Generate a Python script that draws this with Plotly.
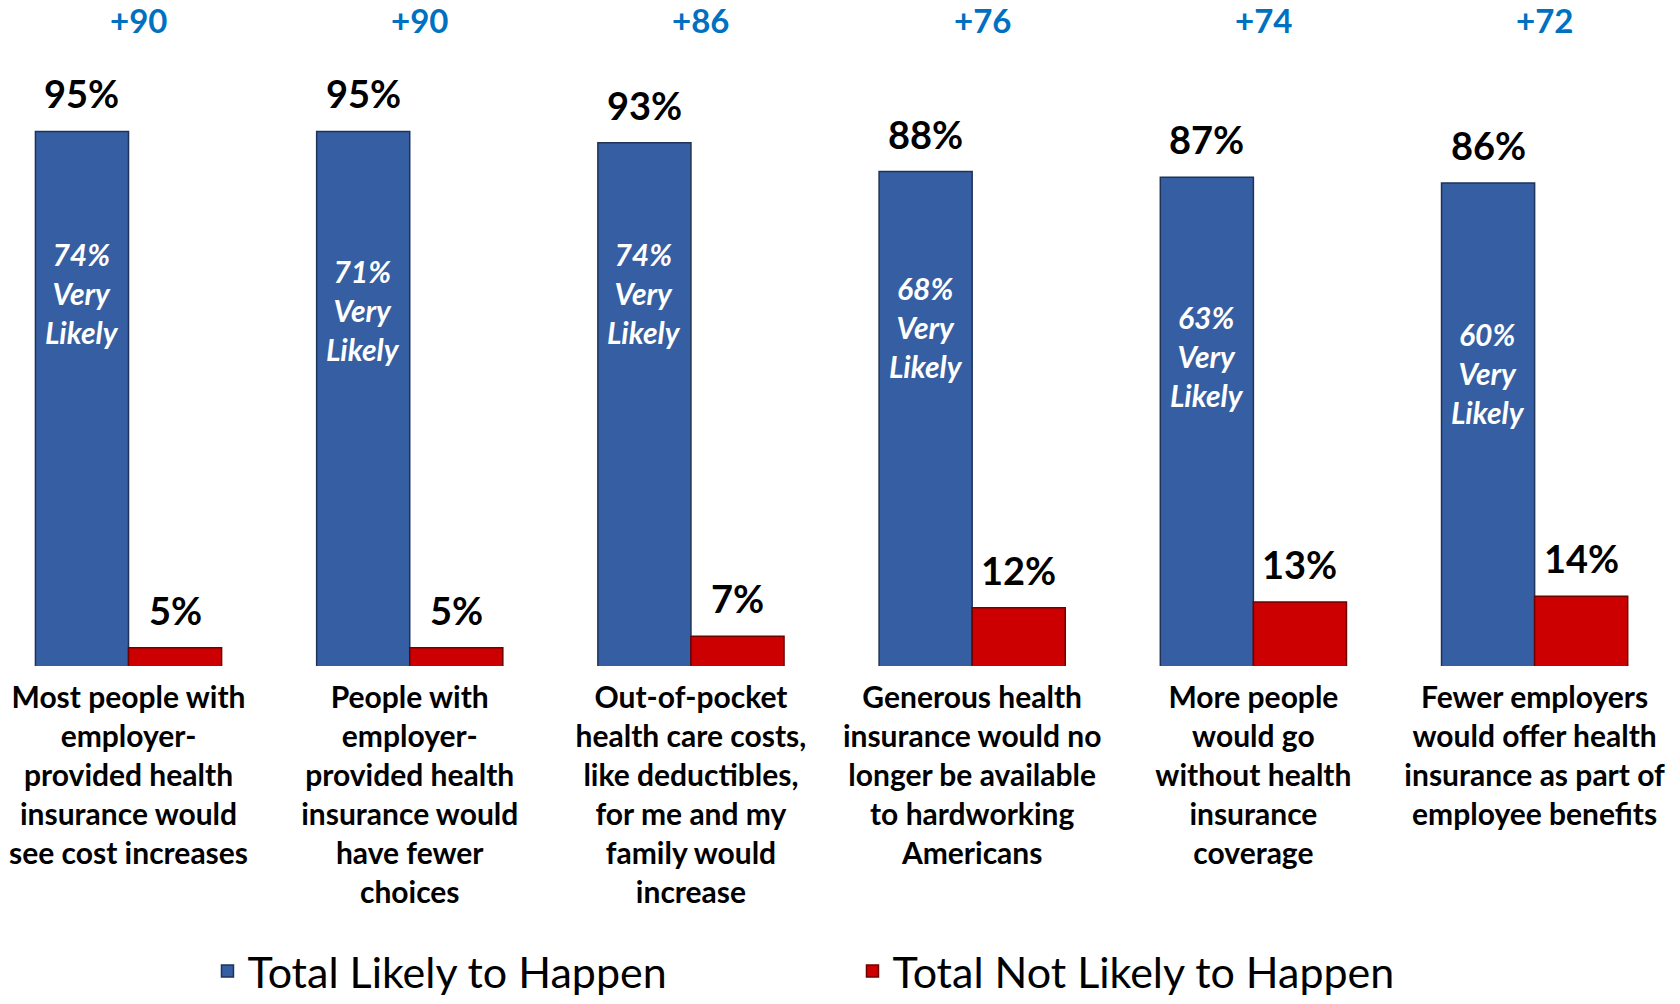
import plotly.graph_objects as go

categories = [
    "Most people with<br>employer-<br>provided health<br>insurance would<br>see cost increases",
    "People with<br>employer-<br>provided health<br>insurance would<br>have fewer<br>choices",
    "Out-of-pocket<br>health care costs,<br>like deductibles,<br>for me and my<br>family would<br>increase",
    "Generous health<br>insurance would no<br>longer be available<br>to hardworking<br>Americans",
    "More people<br>would go<br>without health<br>insurance<br>coverage",
    "Fewer employers<br>would offer health<br>insurance as part of<br>employee benefits",
]
total_likely = [95, 95, 93, 88, 87, 86]
total_not_likely = [5, 5, 7, 12, 13, 14]
very_likely = [74, 71, 74, 68, 63, 60]
net = [90, 90, 86, 76, 74, 72]
series_names = ["Total Likely to Happen", "Total Not Likely to Happen"]

BLUE = "#365EA2"
RED = "#CC0000"
NET_BLUE = "#0070C0"
FONT = "Lato"

x = list(range(len(categories)))
bargap = 0.338
half = (1 - bargap) / 4  # center offset of each bar in a group

fig = go.Figure()
fig.add_trace(go.Bar(x=x, y=total_likely, name=series_names[0],
                     marker=dict(color=BLUE, line=dict(color="#1F3358", width=1.5))))
fig.add_trace(go.Bar(x=x, y=total_not_likely, name=series_names[1],
                     marker=dict(color=RED, line=dict(color="#6E0000", width=1.5))))

annotations = []
for i in x:
    annotations.append(dict(x=i - half, y=total_likely[i], xref="x", yref="y",
                            text=f"<b>{total_likely[i]}%</b>", showarrow=False,
                            yanchor="bottom", yshift=13,
                            font=dict(family=FONT, size=38, color="black")))
    annotations.append(dict(x=i + half, y=total_not_likely[i], xref="x", yref="y",
                            text=f"<b>{total_not_likely[i]}%</b>", showarrow=False,
                            yanchor="bottom", yshift=13,
                            font=dict(family=FONT, size=38, color="black")))
    annotations.append(dict(x=i - half, y=very_likely[i], xref="x", yref="y",
                            text=f"<b><i>{very_likely[i]}%<br>Very<br>Likely</i></b>",
                            showarrow=False, yanchor="top", yshift=18,
                            font=dict(family=FONT, size=30, color="white")))
    annotations.append(dict(x=i, y=0.97, xref="x", yref="paper",
                            text=f"<b>+{net[i]}</b>", showarrow=False,
                            yanchor="middle", xshift=10,
                            font=dict(family=FONT, size=33, color=NET_BLUE)))

fig.update_layout(
    width=1680, height=1004,
    margin=dict(l=0, r=0, t=0, b=338, autoexpand=False),
    paper_bgcolor="white", plot_bgcolor="white",
    barmode="group", bargap=bargap, bargroupgap=0,
    xaxis=dict(range=[-0.457, 5.517], tickvals=x,
               ticktext=[f"<b>{c}</b>" for c in categories],
               tickfont=dict(family=FONT, size=30, color="black"),
               showgrid=False, zeroline=False, showline=False, ticks="",
               ticklabelstandoff=11, automargin=False),
    yaxis=dict(range=[1.83, 117.9], visible=False, showgrid=False, zeroline=False),
    legend=dict(orientation="h", x=0.1235, xanchor="left", y=-0.458, yanchor="middle",
                font=dict(family=FONT, size=43, color="black"),
                entrywidth=600, entrywidthmode="pixels", itemwidth=30),
    annotations=annotations,
    showlegend=True,
)

fig.write_html("out.html")
